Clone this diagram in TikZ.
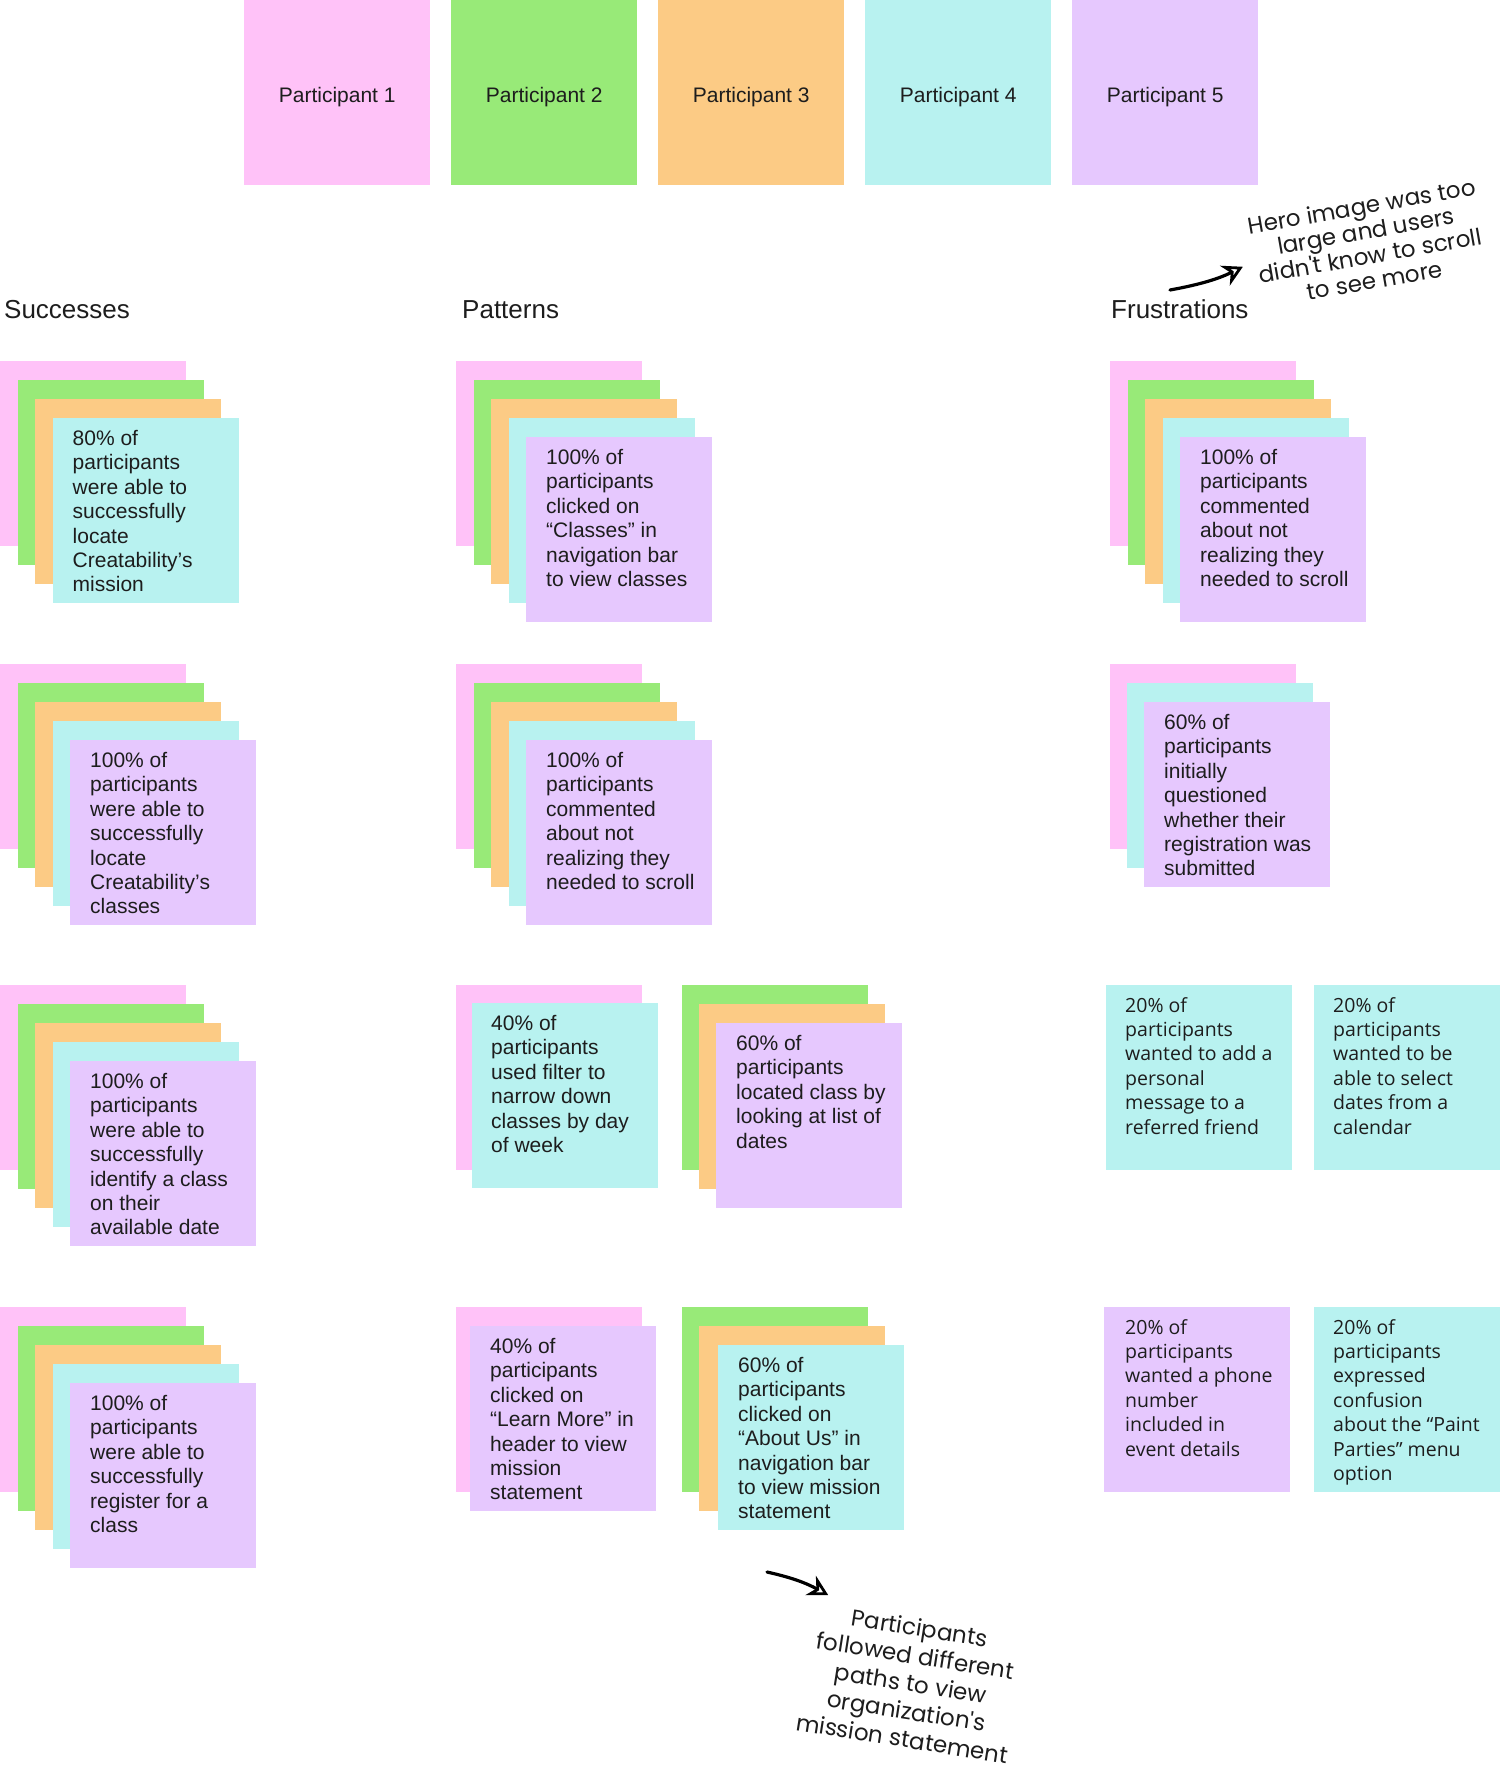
\documentclass[tikz,border=0pt]{standalone}
\usepackage{fontspec}
\setmainfont{Liberation Sans}
\newfontfamily\interfont{Open Sans}
\newfontfamily\handfont{Poppins}
\usepackage{tikz}
\usetikzlibrary{arrows.meta}
\definecolor{stickypink}{HTML}{FFC2F8}
\definecolor{stickygreen}{HTML}{98EA78}
\definecolor{stickyorange}{HTML}{FCCB85}
\definecolor{stickycyan}{HTML}{B8F2F0}
\definecolor{stickypurple}{HTML}{E6C8FE}
\definecolor{inkblack}{HTML}{1D1D1D}
\tikzset{
    sticky/.style={shape=rectangle, draw=none, anchor=north west, minimum width=186pt, minimum height=185pt, inner sep=0pt},
    participant/.style={sticky, text=inkblack, text height=19pt, text depth=0pt, font=\fontsize{21}{24}\selectfont},
    stickytext/.style={anchor=north west, align=left, inner sep=0pt, text=inkblack, font=\fontsize{21}{24.4}\selectfont},
    widetext/.style={stickytext, font=\interfont\fontsize{19.5}{24.4}\selectfont},
    heading/.style={anchor=base west, inner sep=0pt, text=inkblack, font=\fontsize{26}{30}\selectfont},
    handnote/.style={align=center, inner sep=6pt, text=inkblack, font=\handfont\fontsize{23}{25}\selectfont},
    handarrow/.style={line width=3.2pt, line cap=round, -{Stealth[open, length=20pt, width=22pt, line width=2.8pt]}}
}
\begin{document}
\begin{tikzpicture}[x=1pt, y=-1pt]
    \useasboundingbox (0,0) rectangle (1500,1779);

    % participants
    \node[participant, fill=stickypink] (P1) at (244,0) {Participant 1};
    \node[participant, fill=stickygreen] (P2) at (451,0) {Participant 2};
    \node[participant, fill=stickyorange] (P3) at (658,0) {Participant 3};
    \node[participant, fill=stickycyan] (P4) at (865,0) {Participant 4};
    \node[participant, fill=stickypurple] (P5) at (1072,0) {Participant 5};

    \node[heading] (succ) at (4,318) {Successes};
    \node[heading] (patt) at (462,318) {Patterns};
    \node[heading] (frus) at (1111,318) {Frustrations};

    % successes
    \node[sticky, fill=stickypink] (S1a) at (0,361) {};
    \node[sticky, fill=stickygreen] (S1b) at (17.5,380) {};
    \node[sticky, fill=stickyorange] (S1c) at (35,399) {};
    \node[sticky, fill=stickycyan] (S1d) at (52.5,418) {};
    \node[stickytext] (S1t) at ([xshift=20pt, yshift=-12pt]S1d.north west) {80\% of\\participants\\were able to\\successfully\\locate\\Creatability’s\\mission};

    \node[sticky, fill=stickypink] (S2a) at (0,664) {};
    \node[sticky, fill=stickygreen] (S2b) at (17.5,683) {};
    \node[sticky, fill=stickyorange] (S2c) at (35,702) {};
    \node[sticky, fill=stickycyan] (S2d) at (52.5,721) {};
    \node[sticky, fill=stickypurple] (S2e) at (70,740) {};
    \node[stickytext] (S2t) at ([xshift=20pt, yshift=-12pt]S2e.north west) {100\% of\\participants\\were able to\\successfully\\locate\\Creatability’s\\classes};

    \node[sticky, fill=stickypink] (S3a) at (0,985) {};
    \node[sticky, fill=stickygreen] (S3b) at (17.5,1004) {};
    \node[sticky, fill=stickyorange] (S3c) at (35,1023) {};
    \node[sticky, fill=stickycyan] (S3d) at (52.5,1042) {};
    \node[sticky, fill=stickypurple] (S3e) at (70,1061) {};
    \node[stickytext] (S3t) at ([xshift=20pt, yshift=-12pt]S3e.north west) {100\% of\\participants\\were able to\\successfully\\identify a class\\on their\\available date};

    \node[sticky, fill=stickypink] (S4a) at (0,1307) {};
    \node[sticky, fill=stickygreen] (S4b) at (17.5,1326) {};
    \node[sticky, fill=stickyorange] (S4c) at (35,1345) {};
    \node[sticky, fill=stickycyan] (S4d) at (52.5,1364) {};
    \node[sticky, fill=stickypurple] (S4e) at (70,1383) {};
    \node[stickytext] (S4t) at ([xshift=20pt, yshift=-12pt]S4e.north west) {100\% of\\participants\\were able to\\successfully\\register for a\\class};

    % patterns
    \node[sticky, fill=stickypink] (T1a) at (456,361) {};
    \node[sticky, fill=stickygreen] (T1b) at (473.5,380) {};
    \node[sticky, fill=stickyorange] (T1c) at (491,399) {};
    \node[sticky, fill=stickycyan] (T1d) at (508.5,418) {};
    \node[sticky, fill=stickypurple] (T1e) at (526,437) {};
    \node[stickytext] (T1t) at ([xshift=20pt, yshift=-12pt]T1e.north west) {100\% of\\participants\\clicked on\\“Classes” in\\navigation bar\\to view classes};

    \node[sticky, fill=stickypink] (T2a) at (456,664) {};
    \node[sticky, fill=stickygreen] (T2b) at (473.5,683) {};
    \node[sticky, fill=stickyorange] (T2c) at (491,702) {};
    \node[sticky, fill=stickycyan] (T2d) at (508.5,721) {};
    \node[sticky, fill=stickypurple] (T2e) at (526,740) {};
    \node[stickytext] (T2t) at ([xshift=20pt, yshift=-12pt]T2e.north west) {100\% of\\participants\\commented\\about not\\realizing they\\needed to scroll};

    \node[sticky, fill=stickypink] (T3a) at (456,985) {};
    \node[sticky, fill=stickycyan] (T3b) at (472,1003) {};
    \node[stickytext] (T3t) at ([xshift=19pt, yshift=-12pt]T3b.north west) {40\% of\\participants\\used filter to\\narrow down\\classes by day\\of week};
    \node[sticky, fill=stickygreen] (U3a) at (682,985) {};
    \node[sticky, fill=stickyorange] (U3b) at (699,1004) {};
    \node[sticky, fill=stickypurple] (U3c) at (716,1023) {};
    \node[stickytext] (U3t) at ([xshift=20pt, yshift=-12pt]U3c.north west) {60\% of\\participants\\located class by\\looking at list of\\dates};

    \node[sticky, fill=stickypink] (T4a) at (456,1307) {};
    \node[sticky, fill=stickypurple] (T4b) at (470,1326) {};
    \node[stickytext] (T4t) at ([xshift=20pt, yshift=-12pt]T4b.north west) {40\% of\\participants\\clicked on\\“Learn More” in\\header to view\\mission\\statement};
    \node[sticky, fill=stickygreen] (U4a) at (682,1307) {};
    \node[sticky, fill=stickyorange] (U4b) at (699,1326) {};
    \node[sticky, fill=stickycyan] (U4c) at (718,1345) {};
    \node[stickytext] (U4t) at ([xshift=20pt, yshift=-12pt]U4c.north west) {60\% of\\participants\\clicked on\\“About Us” in\\navigation bar\\to view mission\\statement};

    % frustrations
    \node[sticky, fill=stickypink] (F1a) at (1110,361) {};
    \node[sticky, fill=stickygreen] (F1b) at (1127.5,380) {};
    \node[sticky, fill=stickyorange] (F1c) at (1145,399) {};
    \node[sticky, fill=stickycyan] (F1d) at (1162.5,418) {};
    \node[sticky, fill=stickypurple] (F1e) at (1180,437) {};
    \node[stickytext] (F1t) at ([xshift=20pt, yshift=-12pt]F1e.north west) {100\% of\\participants\\commented\\about not\\realizing they\\needed to scroll};

    \node[sticky, fill=stickypink] (F2a) at (1110,664) {};
    \node[sticky, fill=stickycyan] (F2b) at (1127,683) {};
    \node[sticky, fill=stickypurple] (F2c) at (1144,702) {};
    \node[stickytext] (F2t) at ([xshift=20pt, yshift=-12pt]F2c.north west) {60\% of\\participants\\initially\\questioned\\whether their\\registration was\\submitted};

    \node[sticky, fill=stickycyan] (F3a) at (1106,985) {};
    \node[widetext] (F3at) at ([xshift=19pt, yshift=-12pt]F3a.north west) {20\% of\\participants\\wanted to add a\\personal\\message to a\\referred friend};
    \node[sticky, fill=stickycyan] (F3b) at (1314,985) {};
    \node[widetext] (F3bt) at ([xshift=19pt, yshift=-12pt]F3b.north west) {20\% of\\participants\\wanted to be\\able to select\\dates from a\\calendar};

    \node[sticky, fill=stickypurple] (F4a) at (1104,1307) {};
    \node[widetext] (F4at) at ([xshift=21pt, yshift=-12pt]F4a.north west) {20\% of\\participants\\wanted a phone\\number\\included in\\event details};
    \node[sticky, fill=stickycyan] (F4b) at (1314,1307) {};
    \node[widetext] (F4bt) at ([xshift=19pt, yshift=-12pt]F4b.north west) {20\% of\\participants\\expressed\\confusion\\about the “Paint\\Parties” menu\\option};

    % notes
    \node[handnote, rotate=10] (hero) at (1368,243) {Hero image was too\\large and users\\didn't know to scroll\\to see more};
    \coordinate (herotail) at (1170,290);
    \draw[handarrow, shorten >=6pt] (herotail) to[bend right=8] (hero.west);

    \node[handnote, rotate=-9, font=\handfont\fontsize{23}{28}\selectfont] (paths) at (911,1683) {Participants\\followed different\\paths to view\\organization's\\mission statement};
    \coordinate (pathtail) at (767,1572);
    \draw[handarrow] (pathtail) to[bend left=8] ([xshift=18pt]paths.north west);

\end{tikzpicture}
\end{document}
